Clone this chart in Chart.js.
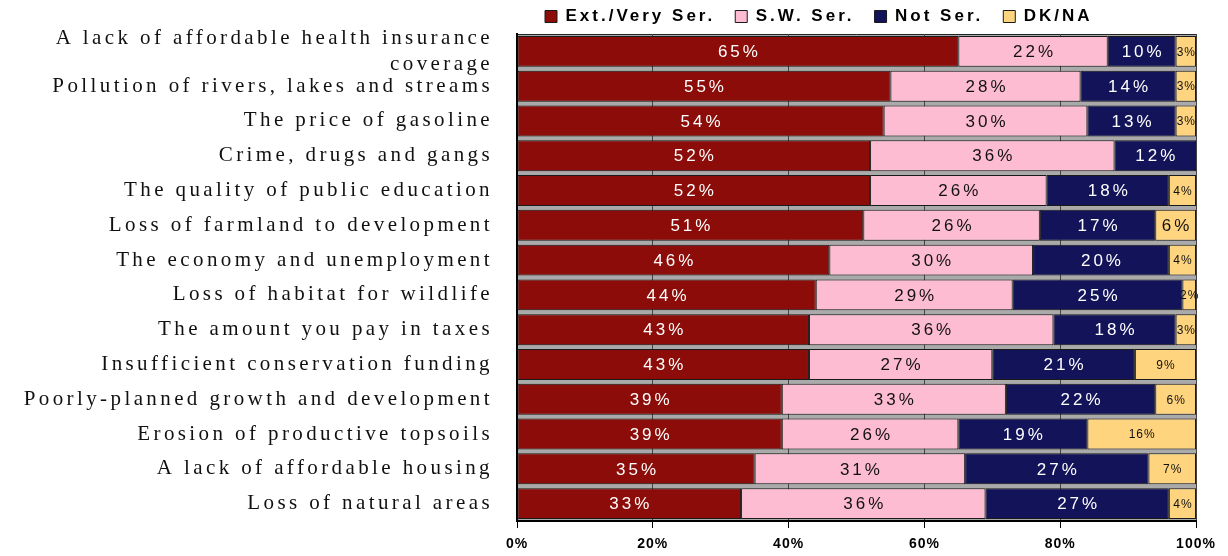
<!DOCTYPE html>
<html>
<head>
<meta charset="utf-8">
<script src="https://cdn.jsdelivr.net/npm/chart.js@4.4.1/dist/chart.umd.min.js"></script>
<style>
    html, body { margin: 0; padding: 0; background: #fff; }
    #wrap { width: 1228px; height: 556px; position: relative; }
</style>
</head>
<body>
<div id="wrap"><canvas id="seriousChart"></canvas></div>
<script>
const categories = [
    ["A lack of affordable health insurance", "coverage"],
    "Pollution of rivers, lakes and streams",
    "The price of gasoline",
    "Crime, drugs and gangs",
    "The quality of public education",
    "Loss of farmland to development",
    "The economy and unemployment",
    "Loss of habitat for wildlife",
    "The amount you pay in taxes",
    "Insufficient conservation funding",
    "Poorly-planned growth and development",
    "Erosion of productive topsoils",
    "A lack of affordable housing",
    "Loss of natural areas"
];
const seriesNames = ["Ext./Very Ser.", "S.W. Ser.", "Not Ser.", "DK/NA"];
const extVery = [65, 55, 54, 52, 52, 51, 46, 44, 43, 43, 39, 39, 35, 33];
const swSer   = [22, 28, 30, 36, 26, 26, 30, 29, 36, 27, 33, 26, 31, 36];
const notSer  = [10, 14, 13, 12, 18, 17, 20, 25, 18, 21, 22, 19, 27, 27];
const dkNa    = [3, 3, 3, 0, 4, 6, 4, 2, 3, 9, 6, 16, 7, 4];
const xTicks  = [0, 20, 40, 60, 80, 100];

const fills = ["#8b0c08", "#fdbcd1", "#13135a", "#ffd47f"];
const labelInk = ["#ffffff", "#111111", "#ffffff", "#111111"];
const legendPad = 20;

// gray plot background (shows between bars), legend nudge, letter spacing
const plotBackground = {
    id: "plotBackground",
    beforeUpdate(chart) { chart.ctx.letterSpacing = "3px"; },
    afterLayout(chart) {
        const lg = chart.legend;
        lg.left += 28 - legendPad; lg.right += 28 - legendPad;
        lg.top -= legendPad - 8;   // bottom stays put so the legend clip keeps the text
    },
    beforeDraw(chart) {
        const { ctx, chartArea: a } = chart;
        ctx.save();
        ctx.fillStyle = "#aaaaaa";
        ctx.fillRect(a.left, a.top, a.right - a.left, a.bottom - a.top);
        ctx.strokeStyle = "#222";
        ctx.lineWidth = 1;
        ctx.beginPath();
        ctx.moveTo(a.left, a.top + 0.5);
        ctx.lineTo(a.right, a.top + 0.5);
        ctx.stroke();
        ctx.restore();
        ctx.letterSpacing = "3px";   // legend
    },
    afterDraw(chart) { chart.ctx.letterSpacing = "0px"; }
};

// percentage labels inside each segment
const segmentLabels = {
    id: "segmentLabels",
    afterDatasetsDraw(chart) {
        const ctx = chart.ctx;
        chart.data.datasets.forEach((ds, i) => {
            const meta = chart.getDatasetMeta(i);
            meta.data.forEach((bar, j) => {
                const v = ds.data[j];
                if (!v) return;
                const small = i === 3 && j !== 5;
                const gap = small ? 1 : 3;
                ctx.save();
                ctx.font = (small ? "12px" : "17px") + ' "Liberation Sans", Arial, sans-serif';
                ctx.letterSpacing = gap + "px";
                ctx.fillStyle = labelInk[i];
                ctx.textAlign = "center";
                ctx.textBaseline = "middle";
                const c = bar.getCenterPoint();
                ctx.fillText(v + "%", c.x + gap / 2, c.y + 1);
                ctx.restore();
            });
        });
        // x labels are drawn after the datasets (ticks z: 1)
        ctx.letterSpacing = "1px";
    }
};

// y labels need wider spacing than the x labels
const ySpacing = {
    id: "ySpacing",
    afterLayout(chart) {
        const y = chart.scales.y;
        if (y._spaced) return;
        y._spaced = true;
        const orig = y.drawLabels;
        y.drawLabels = function (area) {
            this.ctx.save();
            this.ctx.letterSpacing = "3.4px";
            orig.call(this, area);
            this.ctx.restore();
        };
    }
};

const seriesData = [extVery, swSer, notSer, dkNa];

new Chart(document.getElementById("seriousChart"), {
    type: "bar",
    data: {
        labels: categories,
        datasets: seriesNames.map((name, i) => ({
            label: name,
            data: seriesData[i],
            backgroundColor: fills[i],
            borderColor: "#1a1a1a",
            borderWidth: 1,
            borderSkipped: false,
            barPercentage: 0.89,
            categoryPercentage: 1
        }))
    },
    options: {
        indexAxis: "y",
        responsive: true,
        maintainAspectRatio: false,
        animation: false,
        layout: { padding: { left: 0, right: 32, top: 0, bottom: 0 } },
        plugins: {
            legend: {
                position: "top",
                align: "start",
                fullSize: false,
                maxHeight: 34,
                labels: {
                    boxWidth: 12,
                    boxHeight: 12,
                    padding: legendPad,
                    color: "#000",
                    font: { family: '"Liberation Sans", Arial, sans-serif', size: 17, weight: "bold" }
                }
            },
            tooltip: { enabled: false }
        },
        scales: {
            x: {
                stacked: true,
                min: 0,
                max: 100,
                afterBuildTicks: scale => { scale.ticks = xTicks.map(v => ({ value: v })); },
                afterFit: scale => {
                    scale.height = 35;
                    scale.paddingLeft = 0;
                    scale.paddingRight = 0;
                },
                grid: { color: "#444", lineWidth: 1, tickLength: 7, tickColor: "#000" },
                border: { display: true, color: "#000", width: 2 },
                ticks: {
                    z: 1,
                    padding: 8,
                    color: "#000",
                    font: { family: '"Liberation Sans", Arial, sans-serif', size: 14, weight: "bold" },
                    callback: v => v + "%"
                }
            },
            y: {
                stacked: true,
                afterFit: scale => {
                    scale.width = 517;
                    scale.paddingTop = 0;
                    scale.paddingBottom = 0;
                },
                grid: { display: true, drawOnChartArea: false, drawTicks: false },
                border: { display: true, color: "#000", width: 2 },
                ticks: {
                    z: 2,
                    autoSkip: false,
                    padding: 24,
                    color: "#111",
                    font: { family: '"Liberation Serif", "Times New Roman", serif', size: 21, lineHeight: 1.2 }
                }
            }
        }
    },
    plugins: [plotBackground, segmentLabels, ySpacing]
});
</script>
</body>
</html>
